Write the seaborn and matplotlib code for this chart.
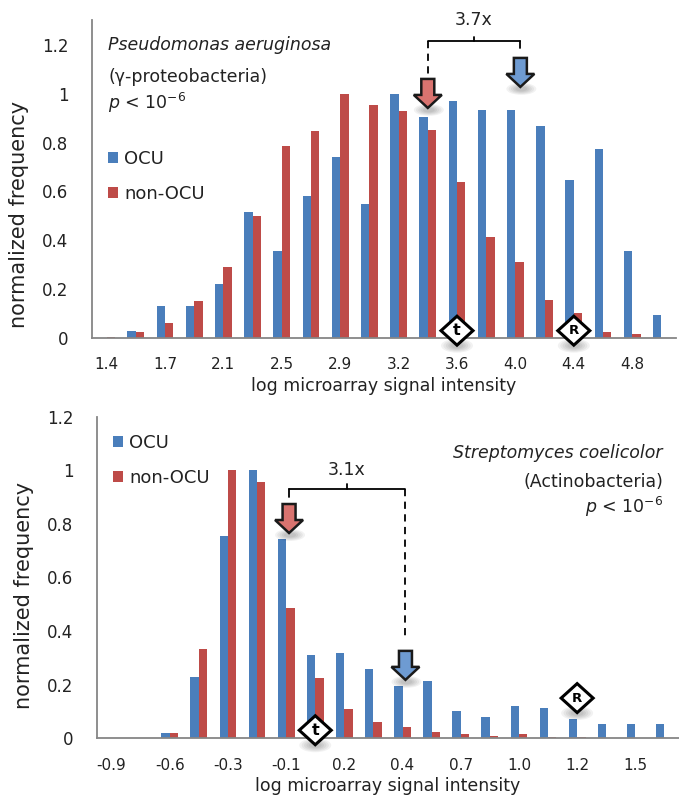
import numpy as np
import pandas as pd
import seaborn as sns
from matplotlib import pyplot as plt
from matplotlib.patches import Polygon, Ellipse, Patch
from matplotlib.transforms import ScaledTranslation

# ---- data (normalized frequency per bin) ----
top_labels = ["1.4", "1.7", "2.1", "2.5", "2.9", "3.2", "3.6", "4.0", "4.4", "4.8"]
top_ocu = [0.0, 0.03, 0.13, 0.13, 0.22, 0.515, 0.355, 0.58, 0.74, 0.55,
           1.0, 0.905, 0.97, 0.935, 0.935, 0.87, 0.645, 0.775, 0.355, 0.095]
top_non = [0.005, 0.025, 0.06, 0.15, 0.29, 0.50, 0.785, 0.848, 1.0, 0.955,
           0.93, 0.85, 0.637, 0.413, 0.31, 0.155, 0.103, 0.025, 0.018, 0.0]

bot_labels = ["-0.9", "-0.6", "-0.3", "-0.1", "0.2", "0.4", "0.7", "1.0", "1.2", "1.5"]
bot_ocu = [0.0, 0.0, 0.021, 0.227, 0.754, 1.0, 0.742, 0.309, 0.319, 0.257,
           0.195, 0.215, 0.102, 0.081, 0.122, 0.112, 0.071, 0.052, 0.052, 0.052]
bot_non = [0.0, 0.0, 0.021, 0.332, 1.0, 0.957, 0.488, 0.224, 0.11, 0.062,
           0.042, 0.023, 0.017, 0.01, 0.015, 0.006, 0.004, 0.002, 0.002, 0.0]

series = ["OCU", "non-OCU"]
colors = {"OCU": "#4a7ebb", "non-OCU": "#be4b48"}

sns.set_theme(style="white")
plt.rcParams['font.family'] = ['DejaVu Sans']
plt.rcParams['mathtext.fontset'] = 'dejavusans'

AXC = "#868686"
TXT = "#222222"
FS = 12.5

fig = plt.figure(figsize=(6.79, 7.99), dpi=100)
ax_top = fig.add_axes([92 / 679, 1 - 338 / 799, 584 / 679, 318 / 799])
ax_bot = fig.add_axes([97 / 679, 1 - 738.3 / 799, 582 / 679, 321.6 / 799])


def long_frame(ocu, non):
    n = len(ocu)
    return pd.DataFrame({
        "bin": list(range(n)) * 2,
        "freq": list(ocu) + list(non),
        "group": ["OCU"] * n + ["non-OCU"] * n,
    })


def style_axes(ax, labels, ymax, ylab_y):
    n = 20
    ax.set_xlim(-0.5, n - 0.5)
    ax.set_ylim(0, ymax)
    ax.set_yticks([0, 0.2, 0.4, 0.6, 0.8, 1.0, 1.2])
    ax.set_yticklabels(["0", "0.2", "0.4", "0.6", "0.8", "1", "1.2"], fontsize=12)
    ax.set_xticks(np.arange(0, n, 2))
    ax.set_xticklabels(labels, fontsize=11)
    ax.set_xticks(np.arange(-0.5, n, 1), minor=True)
    ax.tick_params(axis="x", which="major", length=0, pad=14, colors=TXT)
    ax.tick_params(axis="x", which="minor", length=5, width=1.2, color=AXC, direction="out")
    ax.tick_params(axis="y", length=5, width=1.2, color=AXC, direction="out", pad=12,
                   labelcolor=TXT)
    for s in ["top", "right"]:
        ax.spines[s].set_visible(False)
    for s in ["left", "bottom"]:
        ax.spines[s].set_color(AXC)
        ax.spines[s].set_linewidth(1.3)
    ax.set_xlabel("log microarray signal intensity", fontsize=FS, color=TXT, labelpad=3)
    ax.set_ylabel("normalized frequency", fontsize=15, color=TXT, labelpad=7)
    ax.yaxis.set_label_coords(-0.108, ylab_y)


def soft_shadow(ax, tr, cx, cy, w, h):
    for k in range(5):
        s = 1.0 - 0.15 * k
        ax.add_patch(Ellipse((cx, cy), w * s, h * s, transform=tr, facecolor="#000000",
                             alpha=0.05, edgecolor="none", clip_on=False, zorder=4))


def block_arrow(ax, x, y, face):
    # down-pointing block arrow, tip at (x, y) in data coords, shape in inches
    tr = fig.dpi_scale_trans + ScaledTranslation(x, y, ax.transData)
    sw, hw, sh, hh = 0.065, 0.14, 0.16, 0.13
    verts = [(-sw, hh + sh), (sw, hh + sh), (sw, hh), (hw, hh), (0, 0), (-hw, hh), (-sw, hh)]
    soft_shadow(ax, tr, 0.01, -0.02, 0.3, 0.12)
    ax.add_patch(Polygon(verts, closed=True, transform=tr, facecolor=face,
                         edgecolor="#1a1a1a", linewidth=1.8, joinstyle="miter",
                         clip_on=False, zorder=5))


def diamond(ax, x, y, letter, size):
    tr = fig.dpi_scale_trans + ScaledTranslation(x, y, ax.transData)
    w, h = 0.16, 0.145
    soft_shadow(ax, tr, 0.0, -0.15, 0.32, 0.14)
    ax.add_patch(Polygon([(0, h), (w, 0), (0, -h), (-w, 0)], closed=True, transform=tr,
                         facecolor="white", edgecolor="black", linewidth=2.2,
                         joinstyle="miter", clip_on=False, zorder=6))
    ax.text(x, y, letter, ha="center", va="center", fontsize=size, fontweight="bold",
            color="black", zorder=7, clip_on=False)


def bracket(ax, x0, x1, xm, yb, y0end, y1end, dash_left):
    kw = dict(color="black", lw=1.3, clip_on=False, zorder=6)
    ax.plot([x0, x1], [yb, yb], **kw)
    ax.plot([x0, x0], [yb, y0end], ls=(0, (4, 3)) if dash_left else "-", **kw)
    ax.plot([x1, x1], [yb, y1end], ls="-" if dash_left else (0, (4, 3)), **kw)
    ax.plot([xm, xm], [yb, yb + 0.018], **kw)


for ax, ocu, non, labels, ymax, ylab_y in [
        (ax_top, top_ocu, top_non, top_labels, 1.302, 0.39),
        (ax_bot, bot_ocu, bot_non, bot_labels, 1.2, 0.445)]:
    df = long_frame(ocu, non)
    sns.barplot(data=df, x="bin", y="freq", hue="group", hue_order=series,
                palette=colors, width=0.58, gap=0, saturation=1, ax=ax,
                edgecolor="none", linewidth=0, legend=False)
    style_axes(ax, labels, ymax, ylab_y)

# ---- legends ----
handles = [Patch(facecolor=colors[s], edgecolor="none") for s in series]
for ax, anchor in [(ax_top, (0.015, 0.615)), (ax_bot, (0.015, 0.97))]:
    ax.legend(handles, series, loc="upper left", bbox_to_anchor=anchor, frameon=False,
              fontsize=13, handlelength=0.55, handleheight=0.55, handletextpad=0.35,
              labelspacing=0.95, borderaxespad=0, labelcolor=TXT)

# ---- top panel annotations ----
ax_top.text(0.05, 1.20, "Pseudomonas aeruginosa", fontsize=FS, style="italic",
            ha="left", va="center", color=TXT)
ax_top.text(0.05, 1.069, "(γ-proteobacteria)", fontsize=FS, ha="left", va="center", color=TXT)
ax_top.text(0.05, 0.962, r"$p$ < 10$^{-6}$", fontsize=FS, ha="left", va="center", color=TXT)
block_arrow(ax_top, 11.0, 0.942, "#d9736f")
block_arrow(ax_top, 14.17, 1.028, "#6e9bd2")
bracket(ax_top, 11.0, 14.17, 12.58, 1.216, 1.077, 1.188, dash_left=True)
ax_top.text(12.58, 1.30, "3.7x", fontsize=12.5, ha="center", va="center", clip_on=False,
            color=TXT)
diamond(ax_top, 12.0, 0.03, "t", 11.5)
diamond(ax_top, 16.0, 0.03, "R", 9.5)

# ---- bottom panel annotations ----
ax_bot.text(18.95, 1.064, "Streptomyces coelicolor", fontsize=FS, style="italic",
            ha="right", va="center", color=TXT)
ax_bot.text(18.95, 0.956, "(Actinobacteria)", fontsize=FS, ha="right", va="center", color=TXT)
ax_bot.text(18.95, 0.863, r"$p$ < 10$^{-6}$", fontsize=FS, ha="right", va="center", color=TXT)
block_arrow(ax_bot, 6.1, 0.766, "#d9736f")
block_arrow(ax_bot, 10.1, 0.218, "#6e9bd2")
bracket(ax_bot, 6.1, 10.1, 8.08, 0.93, 0.90, 0.367, dash_left=False)
ax_bot.text(8.08, 1.0, "3.1x", fontsize=12.5, ha="center", va="center", clip_on=False,
            color=TXT)
diamond(ax_bot, 7.0, 0.03, "t", 11.5)
diamond(ax_bot, 16.0, 0.15, "R", 9.5)

fig.savefig("out.png", dpi=100)
